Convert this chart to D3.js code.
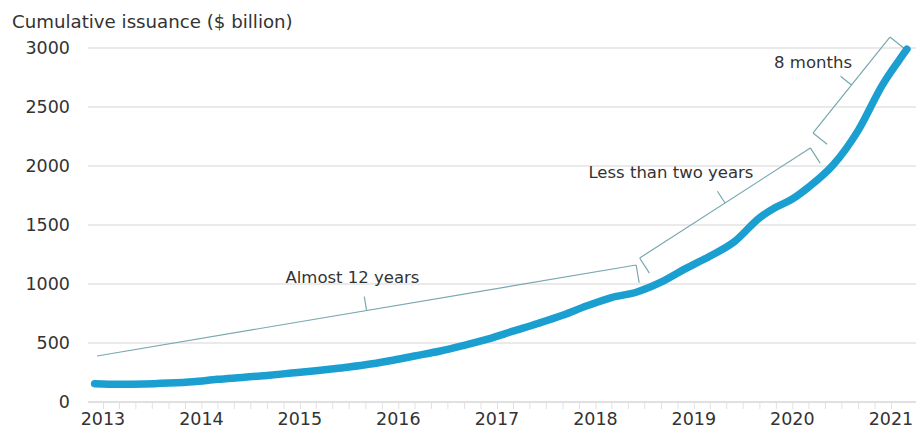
<!DOCTYPE html>
<html>
<head>
<meta charset="utf-8">
<script src="https://cdn.jsdelivr.net/npm/d3@7"></script>
<style>
body { margin: 0; background: #fff; }
text { font-family: "DejaVu Sans", sans-serif; fill: #333; }
</style>
</head>
<body>
<script>
var w = 922;
var h = 435;

// cumulative issuance, $ billion
var dates = ["2012-12","2013-03","2013-06","2013-09","2013-12","2014-03","2014-06","2014-09","2014-12",
             "2015-03","2015-06","2015-09","2015-12","2016-03","2016-06","2016-09","2016-12",
             "2017-03","2017-06","2017-09","2017-12","2018-03","2018-06","2018-09","2018-12",
             "2019-03","2019-06","2019-09","2019-11","2020-01","2020-03","2020-06","2020-09",
             "2020-12","2021-02","2021-03"];
var values = [155,150,152,160,172,192,208,225,245,
              265,288,315,350,390,430,480,535,
              600,665,735,815,885,930,1015,1130,
              1235,1360,1560,1650,1720,1820,2010,2300,
              2690,2900,2990];

var years = [2013,2014,2015,2016,2017,2018,2019,2020,2021];
var yTicks = [0,500,1000,1500,2000,2500,3000];

// brackets
var bracketLabels = ["Almost 12 years","Less than two years","8 months"];
var bracketFrom = [["2012-12-10",390],["2018-06-14",1220],["2020-03-18",2280]];
var bracketTo = [["2018-06-01",1161],["2020-03-08",2153],["2020-12-28",3093]];
var labelAt = [["2015-07-15",1008],["2018-10-08",1898],["2020-03-18",2831]];

var parseM = d3.timeParse("%Y-%m");
var parseD = d3.timeParse("%Y-%m-%d");

var svg = d3.select("body")
            .append("svg")
            .attr("width",w)
            .attr("height",h);

var x = d3.scaleTime()
          .domain([new Date(2013,0,1), new Date(2021,0,1)])
          .range([103, 891]);
var y = d3.scaleLinear()
          .domain([0,3000])
          .range([402,48]);

/** gridlines **/
svg.selectAll("line.grid")
    .data(yTicks.slice(1))
    .enter()
    .append("line")
    .attr("class","grid")
    .attr("x1",88)
    .attr("x2",916)
    .attr("y1",function(d){return y(d);})
    .attr("y2",function(d){return y(d);})
    .attr("stroke","#e3e3e3")
    .attr("stroke-width",1.5);

/** y labels **/
svg.selectAll("text.ylab")
    .data(yTicks)
    .enter()
    .append("text")
    .attr("class","ylab")
    .attr("x",70)
    .attr("y",function(d){return y(d)+6;})
    .attr("text-anchor","end")
    .style("font-size","17.5px")
    .text(function(d){return d;});

svg.append("text")
    .attr("x",12)
    .attr("y",28)
    .style("font-size","18.2px")
    .text("Cumulative issuance ($ billion)");

/** x axis **/
var xAxis = d3.axisBottom(x)
    .ticks(d3.timeMonth.every(2))
    .tickSize(7)
    .tickFormat("");
var gx = svg.append("g")
    .attr("transform","translate(0,"+y(0)+")")
    .call(xAxis);
gx.select(".domain").attr("stroke","#d6d6d6").attr("stroke-width",1.5)
  .attr("d","M88,0H916");
gx.selectAll(".tick line").attr("stroke","#e0e0e0");

svg.selectAll("text.xlab")
    .data(years)
    .enter()
    .append("text")
    .attr("class","xlab")
    .attr("x",function(d){return x(new Date(d,0,1));})
    .attr("y",425)
    .attr("text-anchor","middle")
    .style("font-size","17.5px")
    .text(function(d){return d;});

/** brackets **/
function bracket(i){
    var x1 = x(parseD(bracketFrom[i][0])), y1 = y(bracketFrom[i][1]);
    var x2 = x(parseD(bracketTo[i][0])), y2 = y(bracketTo[i][1]);
    var dx = x2-x1, dy = y2-y1, len = Math.sqrt(dx*dx+dy*dy);
    var px = -dy/len, py = dx/len; // points down/right
    var cap = 18, tick = 14;
    var g = svg.append("g")
        .attr("fill","none")
        .attr("stroke","#78a8ae")
        .attr("stroke-width",1.2);
    var p = "M"+x1+","+y1+"L"+x2+","+y2;
    p += "M"+x2+","+y2+"l"+(px*cap)+","+(py*cap);
    if(i>0){ p += "M"+x1+","+y1+"l"+(px*cap)+","+(py*cap); }
    var mx = (x1+x2)/2, my = (y1+y2)/2;
    p += "M"+mx+","+my+"l"+(-px*tick)+","+(-py*tick);
    g.append("path").attr("d",p);
    svg.append("text")
        .attr("x",x(parseD(labelAt[i][0])))
        .attr("y",y(labelAt[i][1]))
        .attr("text-anchor","middle")
        .style("font-size","16.5px")
        .text(bracketLabels[i]);
}
for(var i=0;i<bracketLabels.length;i++){ bracket(i); }

/** issuance line **/
var line = d3.line()
    .x(function(d,i){return x(parseM(dates[i]));})
    .y(function(d){return y(d);})
    .curve(d3.curveMonotoneX);

svg.append("path")
    .datum(values)
    .attr("d",line)
    .attr("fill","none")
    .attr("stroke","#1a9fd0")
    .attr("stroke-width",7.5)
    .attr("stroke-linecap","round");
</script>
</body>
</html>
